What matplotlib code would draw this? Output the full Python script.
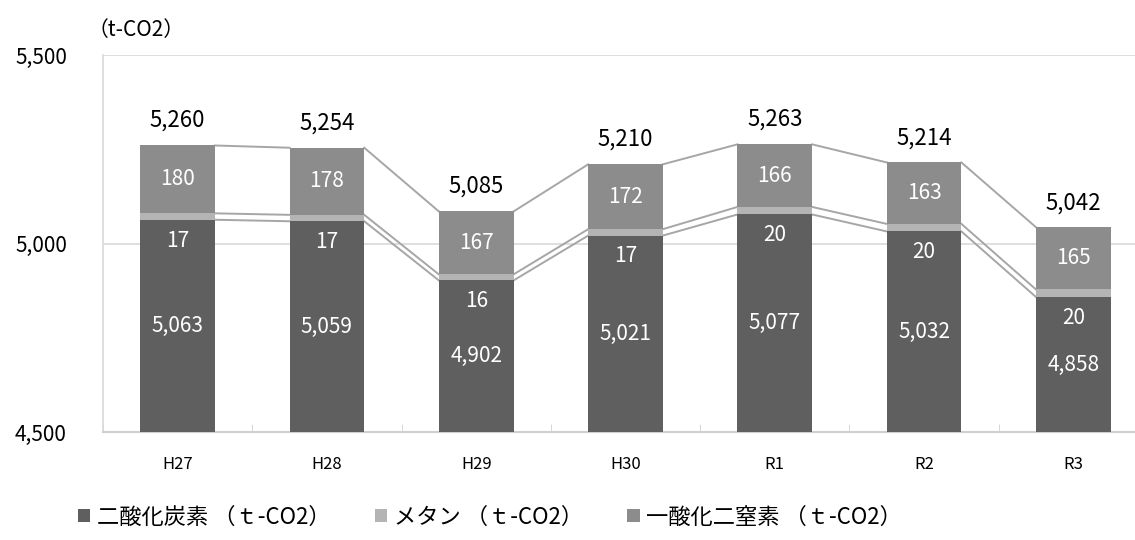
import matplotlib
matplotlib.use('Agg')
import matplotlib.pyplot as plt
import numpy as np

plt.rcParams['font.family'] = ['Noto Sans CJK JP', 'DejaVu Sans']

years = ['H27', 'H28', 'H29', 'H30', 'R1', 'R2', 'R3']
co2 = [5063, 5059, 4902, 5021, 5077, 5032, 4858]
ch4 = [17, 17, 16, 17, 20, 20, 20]
n2o = [180, 178, 167, 172, 166, 163, 165]
totals = [5260, 5254, 5085, 5210, 5263, 5214, 5042]
names = ['二酸化炭素 （ｔ-CO2）', 'メタン （ｔ-CO2）', '一酸化二窒素 （ｔ-CO2）']

c_co2 = '#5f5f5f'
c_ch4 = '#b4b4b4'
c_n2o = '#8c8c8c'
c_line = '#a6a6a6'

fig = plt.figure(figsize=(11.35, 5.4), dpi=100)
ax = fig.add_axes([103/1135, 1-432/540, 1045/1135, 377/540])

x = np.arange(len(years))
w = 0.5
co2 = np.array(co2)
ch4 = np.array(ch4)
n2o = np.array(n2o)
base = 4500

b1 = ax.bar(x, co2 - base, w, bottom=base, color=c_co2, zorder=3, label=names[0])
b2 = ax.bar(x, ch4, w, bottom=co2, color=c_ch4, zorder=3, label=names[1])
b3 = ax.bar(x, n2o, w, bottom=co2 + ch4, color=c_n2o, zorder=3, label=names[2])

# series lines between bars
for top in [co2, co2 + ch4, co2 + ch4 + n2o]:
    for i in range(len(x) - 1):
        ax.plot([x[i] + w/2, x[i+1] - w/2], [top[i], top[i+1]], color=c_line, lw=1.4, zorder=2)

# labels
for i in range(len(x)):
    ax.text(x[i], (base + co2[i]) / 2, f'{co2[i]:,}', ha='center', va='center',
            color='white', fontsize=15, zorder=4)
    ax.annotate(f'{ch4[i]}', (x[i], co2[i]), xytext=(0, -15), textcoords='offset points',
                ha='center', va='center', color='white', fontsize=15, zorder=4)
    ax.text(x[i], co2[i] + ch4[i] + n2o[i] / 2, f'{n2o[i]}', ha='center', va='center',
            color='white', fontsize=15, zorder=4)
    ax.annotate(f'{totals[i]:,}', (x[i], totals[i]), xytext=(0, 18), textcoords='offset points',
                ha='center', va='center', color='black', fontsize=16, zorder=4)

ax.set_xlim(-0.5, 6.5)
ax.set_ylim(4500, 5500)
ax.set_yticks([4500, 5000, 5500])
ax.set_yticklabels(['4,500', '5,000', '5,500'], fontsize=15)
ax.set_xticks(x)
ax.set_xticklabels(years, fontsize=12)
ax.set_xticks(np.arange(-0.5, 7, 1), minor=True)
ax.tick_params(axis='x', which='major', length=0, pad=17)
ax.tick_params(axis='x', which='minor', length=6, direction='in', color='#d0d0d0')
ax.tick_params(axis='y', length=0, pad=26)
ax.yaxis.grid(True, color='#d9d9d9', lw=1.2, zorder=0)
for s in ['top', 'right']:
    ax.spines[s].set_visible(False)
ax.spines['left'].set_color('#d9d9d9')
ax.spines['bottom'].set_color('#d0d0d0')
ax.spines['left'].set_linewidth(1.2)
ax.spines['bottom'].set_linewidth(1.5)

fig.text(88/1135, 1-30/540, '（t-CO2）', fontsize=15, ha='left', va='center')

fig.legend(handles=[b1, b2, b3], loc='center', bbox_to_anchor=(490/1135, 1-517/540),
           ncol=3, frameon=False, fontsize=16, handlelength=0.55, handleheight=0.55,
           handletextpad=0.3, columnspacing=2.0)

fig.savefig('out.png', dpi=100)
